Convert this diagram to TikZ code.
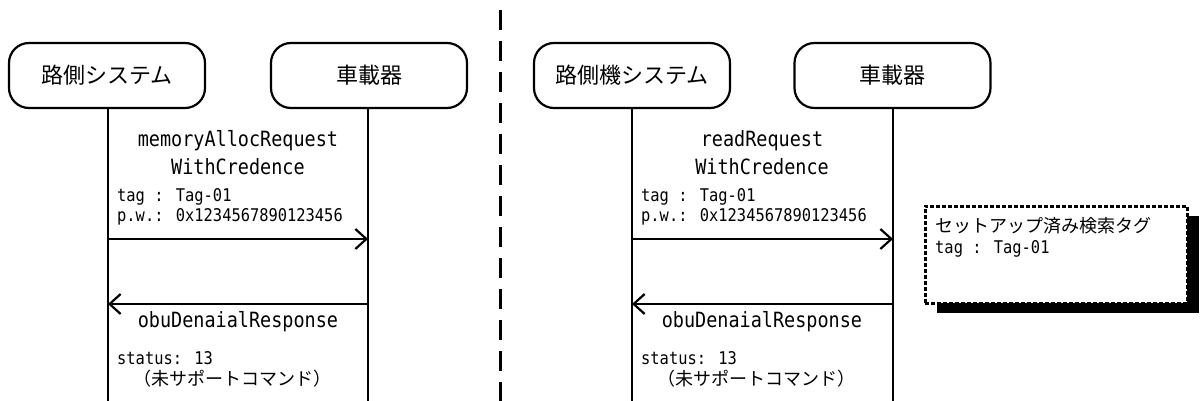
\documentclass[tikz,border=0pt]{standalone}
\usepackage{fontspec}
\usetikzlibrary{arrows.meta,shadows}
\newfontfamily\jpfont{Noto Sans CJK JP}
\newfontfamily\monofont[FakeStretch=0.88]{DejaVu Sans Mono}
\tikzset{
  actor/.style={draw, line width=2.2pt, rounded corners=20pt, minimum width=196pt,
    minimum height=65pt, inner sep=0pt, font=\jpfont\fontsize{22}{26}\selectfont},
  life/.style={line width=2.2pt},
  msg/.style={line width=2.2pt, -{Straight Barb[length=11pt,width=20pt]}},
  bigmono/.style={inner sep=0pt, anchor=base, font=\monofont\fontsize{21}{25}\selectfont},
  smallmono/.style={inner sep=0pt, anchor=base west, font=\monofont\fontsize{17.5}{21}\selectfont},
  smalljp/.style={inner sep=0pt, anchor=base west, font=\jpfont\fontsize{18}{22}\selectfont},
  divider/.style={line width=3pt, dash pattern=on 20pt off 11pt},
  notebox/.style={draw, fill=white, line width=3pt, dash pattern=on 4pt off 2pt,
    minimum width=262pt, minimum height=97pt, inner sep=0pt,
    drop shadow={shadow xshift=12pt, shadow yshift=-10pt, fill=black, opacity=1}}
}
\begin{document}
\begin{tikzpicture}[x=1pt,y=-1pt]
\useasboundingbox[fill=white] (0,0) rectangle (1200,401);
% divider
\coordinate (dtop) at (500,10);
\coordinate (dbot) at (500,401);
\draw[divider] (dtop) -- (dbot);
% actors
\node[actor] (a1) at (107,75.5) {路側システム};
\node[actor] (a2) at (369,75.5) {車載器};
\node[actor] (b1) at (632,75.5) {路側機システム};
\node[actor] (b2) at (892.5,75.5) {車載器};
% lifeline ends
\coordinate (a1e) at (108,401);
\coordinate (a2e) at (368,401);
\coordinate (b1e) at (632,401);
\coordinate (b2e) at (893,401);
\draw[life] (a1.south -| a1e) -- (a1e);
\draw[life] (a2.south -| a2e) -- (a2e);
\draw[life] (b1.south -| b1e) -- (b1e);
\draw[life] (b2.south -| b2e) -- (b2e);
% message points
\coordinate (a1m1) at (108,239);
\coordinate (a2m1) at (368,239);
\coordinate (a1m2) at (108,304);
\coordinate (a2m2) at (368,304);
\coordinate (b1m1) at (632,239);
\coordinate (b2m1) at (893,239);
\coordinate (b1m2) at (632,304);
\coordinate (b2m2) at (893,304);
\draw[msg] (a1m1) -- (a2m1);
\draw[msg] (a2m2) -- (a1m2);
\draw[msg] (b1m1) -- (b2m1);
\draw[msg] (b2m2) -- (b1m2);
% left texts
\node[bigmono] (t1) at (238,147) {memoryAllocRequest};
\node[bigmono] (t2) at (238,175) {WithCredence};
\node[smallmono] (t3) at (117,201) {tag : Tag-01};
\node[smallmono] (t4) at (117,221.5) {p.w.: 0x1234567890123456};
\node[bigmono] (t5) at (238,327) {obuDenaialResponse};
\node[smallmono] (t6) at (117,364) {status: 13};
\node[smalljp] (t7) at (133,385) {（未サポートコマンド）};
% right texts
\node[bigmono] (u1) at (762,147) {readRequest};
\node[bigmono] (u2) at (762,175) {WithCredence};
\node[smallmono] (u3) at (641,201) {tag : Tag-01};
\node[smallmono] (u4) at (641,221.5) {p.w.: 0x1234567890123456};
\node[bigmono] (u5) at (762,327) {obuDenaialResponse};
\node[smallmono] (u6) at (641,364) {status: 13};
\node[smalljp] (u7) at (657,385) {（未サポートコマンド）};
% note
\node[notebox] (nt) at (1056,254.5) {};
\node[smalljp] (n1) at (935,232) {セットアップ済み検索タグ};
\node[smallmono] (n2) at (935,253) {tag : Tag-01};
\end{tikzpicture}
\end{document}
